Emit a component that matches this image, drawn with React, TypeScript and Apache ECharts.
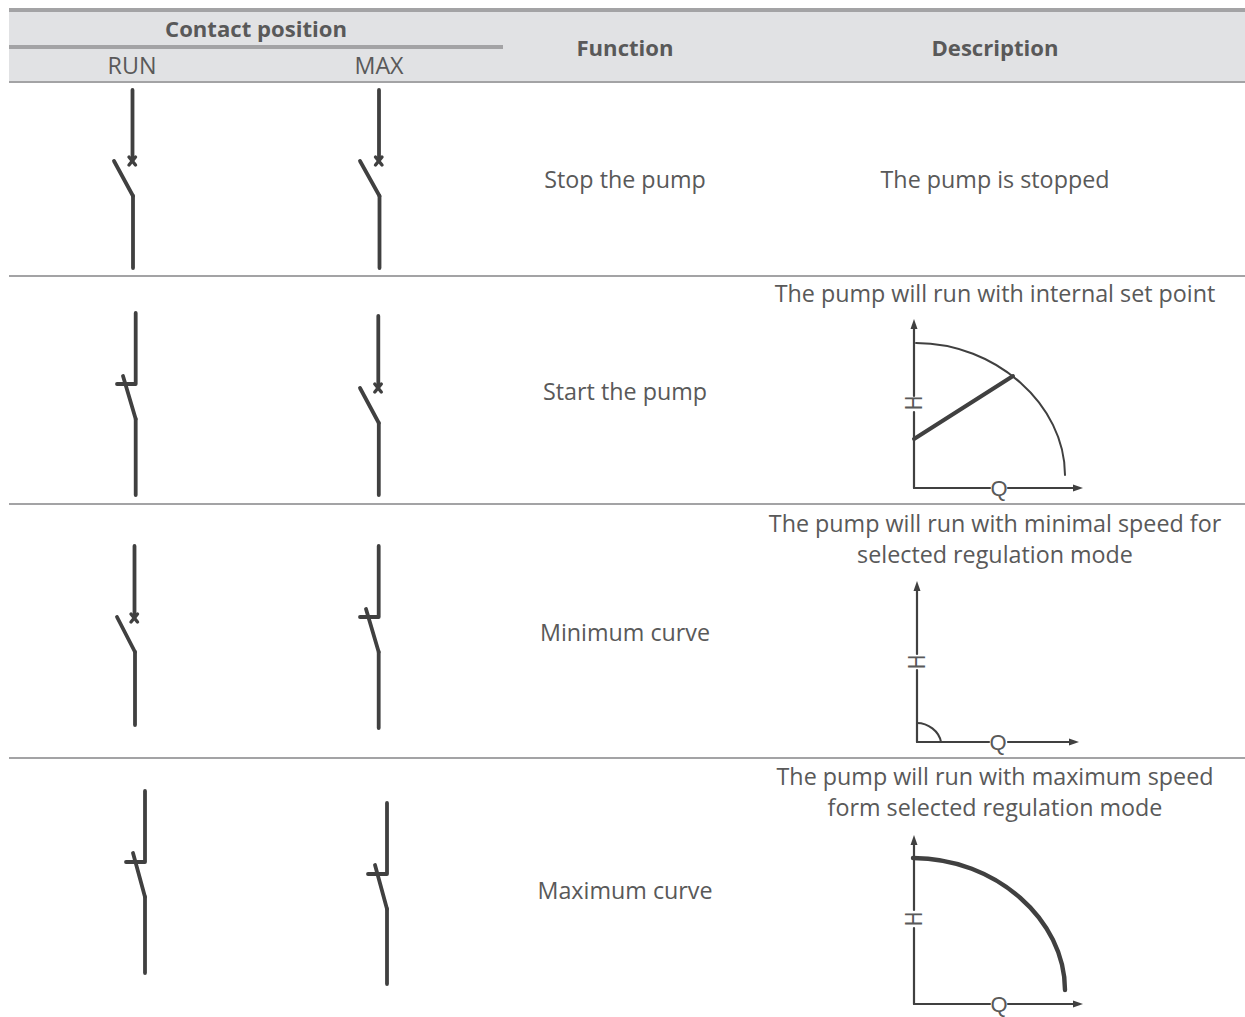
import React, { useEffect, useRef } from "react";
import * as echarts from "echarts";

const headerTop = "Contact position";
const contactColumns = ["RUN", "MAX"];
const headerRight = ["Function", "Description"];
const functions = ["Stop the pump", "Start the pump", "Minimum curve", "Maximum curve"];
const descriptions = [
  ["The pump is stopped"],
  ["The pump will run with internal set point"],
  ["The pump will run with minimal speed for", "selected regulation mode"],
  ["The pump will run with maximum speed", "form selected regulation mode"],
];

const TEXT = "#595959";
const DARK = "#404040";
const RULE = "#a3a3a5";
const FONT = '"Open Sans", sans-serif';

const line = (x1: number, y1: number, x2: number, y2: number, w = 3.8, c = DARK) => ({
  type: "line",
  shape: { x1, y1, x2, y2 },
  style: { stroke: c, lineWidth: w, lineCap: "round" },
});
const rect = (x: number, y: number, width: number, height: number, fill: string) => ({
  type: "rect",
  shape: { x, y, width, height },
  style: { fill },
});
const label = (t: string, x: number, y: number, bold = false) => ({
  type: "text",
  x,
  y,
  style: {
    text: t,
    fill: TEXT,
    font: `${bold ? "bold 22.1px" : "23.3px"} ${FONT}`,
    textAlign: "center",
    textVerticalAlign: "middle",
  },
});

// open contact with a cross at the fixed end
const openSwitch = (x: number, top: number, crossY: number, bladeX: number, bladeY: number, hingeY: number, bottom: number) => [
  line(x, top, x, crossY - 1),
  line(x - 3.5, crossY - 4, x + 3, crossY + 4, 3.4),
  line(x + 3, crossY - 4, x - 3.5, crossY + 4, 3.4),
  line(bladeX, bladeY, x + 0.5, hingeY),
  line(x + 0.5, hingeY, x + 0.5, bottom),
];
// closed contact
const closedSwitch = (x: number, top: number, cornerY: number, leftX: number, bladeX: number, bladeY: number, hingeY: number, bottom: number) => [
  {
    type: "polyline",
    shape: { points: [[x, top], [x, cornerY], [leftX, cornerY]] },
    style: { stroke: DARK, lineWidth: 3.8, lineCap: "round", lineJoin: "round", fill: "none" },
  },
  line(bladeX, bladeY, x, hingeY),
  line(x, hingeY, x, bottom),
];

const axes = (
  ox: number, oy: number, topTip: number, rightTip: number,
  hY: number, hGapTop: number, hGapBottom: number, qX: number, qGapL: number, qGapR: number,
) => [
  line(ox, topTip + 6, ox, hGapTop, 2.2, DARK),
  line(ox, hGapBottom, ox, oy, 2.2, DARK),
  line(ox, oy, qGapL, oy, 2.2, DARK),
  line(qGapR, oy, rightTip - 5, oy, 2.2, DARK),
  { type: "polygon", shape: { points: [[ox, topTip], [ox - 3.5, topTip + 10], [ox + 3.5, topTip + 10]] }, style: { fill: DARK } },
  { type: "polygon", shape: { points: [[rightTip, oy], [rightTip - 10, oy - 3.5], [rightTip - 10, oy + 3.5]] }, style: { fill: DARK } },
  {
    type: "text",
    x: ox,
    y: hY,
    rotation: Math.PI / 2,
    scaleX: 0.85,
    style: { text: "H", fill: TEXT, font: "23px 'Liberation Sans'", textAlign: "center", textVerticalAlign: "middle" },
  },
  {
    type: "text",
    x: qX,
    y: oy,
    style: { text: "Q", fill: TEXT, font: "22px 'Liberation Sans'", textAlign: "center", textVerticalAlign: "middle" },
  },
];

const curve = (x1: number, y1: number, cpx1: number, cpy1: number, cpx2: number, cpy2: number, x2: number, y2: number, w: number) => ({
  type: "bezierCurve",
  shape: { x1, y1, cpx1, cpy1, cpx2, cpy2, x2, y2 },
  style: { stroke: DARK, lineWidth: w, lineCap: "round", fill: "none" },
});

const elements: any[] = [
  rect(9, 9, 1236, 73, "#e1e2e4"),
  rect(9, 8, 1236, 4, RULE),
  rect(9, 45, 494, 4, RULE),
  rect(9, 81, 1236, 2, RULE),
  rect(9, 275, 1236, 2, RULE),
  rect(9, 503, 1236, 2, RULE),
  rect(9, 757, 1236, 2, RULE),

  label(headerTop, 256, 28, true),
  label(contactColumns[0], 132, 65),
  label(contactColumns[1], 379, 65),
  label(headerRight[0], 625, 47, true),
  label(headerRight[1], 995, 47, true),

  label(functions[0], 625, 179),
  label(functions[1], 625, 391),
  label(functions[2], 625, 632),
  label(functions[3], 625, 890),

  label(descriptions[0][0], 995, 179),
  label(descriptions[1][0], 995, 293),
  label(descriptions[2][0], 995, 523),
  label(descriptions[2][1], 995, 554),
  label(descriptions[3][0], 995, 776),
  label(descriptions[3][1], 995, 807),

  ...openSwitch(132.5, 90, 161, 114, 161, 196, 268),
  ...openSwitch(379, 90, 161, 360, 161, 196, 268),
  ...closedSwitch(135.7, 313, 384, 117, 123, 376, 419, 495),
  ...openSwitch(378.3, 316, 388, 360, 388, 423, 495),
  ...openSwitch(134.5, 546, 618, 117, 617, 652, 725),
  ...closedSwitch(378.7, 546, 617, 360, 366, 609, 652, 728),
  ...closedSwitch(145, 791, 862, 126, 133, 853, 897, 973),
  ...closedSwitch(387, 803, 874, 368, 375, 865, 909, 984),

  ...axes(914, 488, 319, 1083, 403, 396, 412, 999, 990, 1008),
  curve(916, 343, 996, 343, 1065, 405, 1065, 475, 2),
  line(914, 439, 1013, 376, 4),

  ...axes(917, 742, 581, 1079, 662, 654, 670, 998, 989, 1008),
  curve(917, 723, 928, 723, 939, 731, 941, 742, 2),

  ...axes(914, 1004, 835, 1083, 919, 910, 928, 999, 990, 1008),
  curve(913, 858, 996, 858, 1065, 920, 1065, 990, 4.4),
];

export default function App() {
  const ref = useRef<HTMLDivElement>(null);
  useEffect(() => {
    const chart = echarts.init(ref.current!, undefined, { renderer: "svg" });
    chart.setOption({ animation: false, backgroundColor: "#ffffff", graphic: { elements } });
    return () => chart.dispose();
  }, []);
  return <div ref={ref} style={{ position: "absolute", left: 0, top: 0, width: 1245, height: 1017 }} />;
}
